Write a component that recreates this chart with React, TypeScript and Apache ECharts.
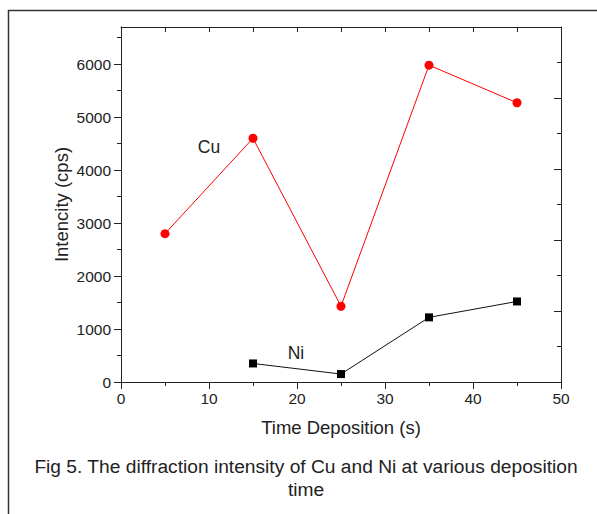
import React, { useEffect, useRef } from "react";
import * as echarts from "echarts";

// ---- data ----
const cuTime = [5, 15, 25, 35, 45];
const cuIntensity = [2800, 4600, 1430, 5980, 5270];
const niTime = [15, 25, 35, 45];
const niIntensity = [350, 150, 1220, 1520];
const yMajorTicks = [0, 1000, 2000, 3000, 4000, 5000, 6000];
const yMinorTicks = [500, 1500, 2500, 3500, 4500, 5500, 6500];
const xMin = 0;
const xMax = 50;
const yMax = 6700;

const FONT = "'Liberation Sans', Arial, Helvetica, sans-serif";
const INK = "#222";

export default function App() {
  const ref = useRef<HTMLDivElement>(null);

  useEffect(() => {
    if (!ref.current) return;
    const chart = echarts.init(ref.current, undefined, { renderer: "svg" });
    const gridRect = { left: 121, top: 27, width: 440, height: 355 };
    const option: any = {
      animation: false,
      backgroundColor: "#fff",
      textStyle: { fontFamily: FONT },
      grid: [{ ...gridRect }, { ...gridRect }, { ...gridRect }],
      xAxis: [
        {
          gridIndex: 0,
          type: "value",
          position: "bottom",
          min: xMin,
          max: xMax,
          interval: 10,
          axisLine: { show: true, onZero: false, lineStyle: { color: INK, width: 1 } },
          axisTick: { show: true, inside: false, length: 7, lineStyle: { color: INK } },
          minorTick: { show: true, splitNumber: 2, length: 4, lineStyle: { color: INK } },
          axisLabel: { fontSize: 15.5, color: INK, margin: 8, fontFamily: FONT },
          splitLine: { show: false },
          name: "Time Deposition (s)",
          nameLocation: "middle",
          nameGap: 36,
          nameTextStyle: { fontSize: 18.5, color: INK, fontFamily: FONT },
        },
        {
          gridIndex: 1,
          type: "value",
          position: "top",
          min: xMin,
          max: xMax,
          interval: 5,
          axisLine: { show: true, onZero: false, lineStyle: { color: INK, width: 1 } },
          axisTick: { show: true, inside: true, length: 5, lineStyle: { color: INK } },
          axisLabel: { show: false },
          splitLine: { show: false },
        },
        { gridIndex: 2, type: "value", show: false, min: xMin, max: xMax },
      ],
      yAxis: [
        {
          gridIndex: 0,
          type: "value",
          position: "left",
          min: 0,
          max: yMax,
          axisLine: { show: true, onZero: false, lineStyle: { color: INK, width: 1 } },
          axisTick: {
            show: true,
            inside: false,
            length: 7,
            customValues: yMajorTicks,
            lineStyle: { color: INK },
          },
          axisLabel: {
            fontSize: 15.5,
            color: INK,
            margin: 10,
            fontFamily: FONT,
            customValues: yMajorTicks,
            formatter: (v: number) => String(v),
          },
          splitLine: { show: false },
          name: "Intencity (cps)",
          nameLocation: "middle",
          nameGap: 50,
          nameMoveOverlap: false,
          nameTextStyle: { fontSize: 18.5, color: INK, fontFamily: FONT },
        },
        {
          gridIndex: 1,
          type: "value",
          position: "left",
          min: 0,
          max: yMax,
          axisLine: { show: false, onZero: false },
          axisTick: {
            show: true,
            inside: false,
            length: 4,
            customValues: yMinorTicks,
            lineStyle: { color: INK },
          },
          axisLabel: { show: false },
          splitLine: { show: false },
        },
        {
          gridIndex: 2,
          type: "value",
          position: "right",
          min: 0,
          max: 10,
          interval: 2,
          axisLine: { show: true, onZero: false, lineStyle: { color: INK, width: 1 } },
          axisTick: { show: true, inside: true, length: 7, lineStyle: { color: INK } },
          minorTick: { show: true, splitNumber: 2, length: 4, lineStyle: { color: INK } },
          axisLabel: { show: false },
          splitLine: { show: false },
        },
      ],
      series: [
        {
          name: "Cu",
          type: "line",
          xAxisIndex: 0,
          yAxisIndex: 0,
          data: cuTime.map((t, i) => [t, cuIntensity[i]]),
          symbol: "circle",
          symbolSize: 9,
          lineStyle: { color: "#ff0000", width: 1 },
          itemStyle: { color: "#ff0000" },
          z: 3,
        },
        {
          name: "Ni",
          type: "line",
          xAxisIndex: 0,
          yAxisIndex: 0,
          data: niTime.map((t, i) => [t, niIntensity[i]]),
          symbol: "rect",
          symbolSize: 8,
          lineStyle: { color: "#111", width: 1 },
          itemStyle: { color: "#000" },
          z: 3,
        },
      ],
      graphic: [
        {
          type: "rect",
          shape: { x: 8.5, y: 10.5, width: 800, height: 800 },
          style: { fill: "none", stroke: "#333", lineWidth: 1.5 },
          silent: true,
          z: 0,
        },
        {
          type: "text",
          x: 209,
          y: 147,
          style: {
            text: "Cu",
            fill: INK,
            fontSize: 17.5,
            fontFamily: FONT,
            align: "center",
            verticalAlign: "middle",
          },
        },
        {
          type: "text",
          x: 296,
          y: 353,
          style: {
            text: "Ni",
            fill: INK,
            fontSize: 17.5,
            fontFamily: FONT,
            align: "center",
            verticalAlign: "middle",
          },
        },
        {
          type: "text",
          x: 306,
          y: 455,
          style: {
            text: "Fig 5. The diffraction intensity of Cu and Ni at various deposition\ntime",
            fill: INK,
            fontSize: 19.2,
            lineHeight: 23,
            fontFamily: FONT,
            align: "center",
            verticalAlign: "top",
          },
        },
      ],
    };
    chart.setOption(option);
    return () => chart.dispose();
  }, []);

  return (
    <div
      ref={ref}
      style={{ position: "absolute", left: 0, top: 0, width: 597, height: 514 }}
    />
  );
}
